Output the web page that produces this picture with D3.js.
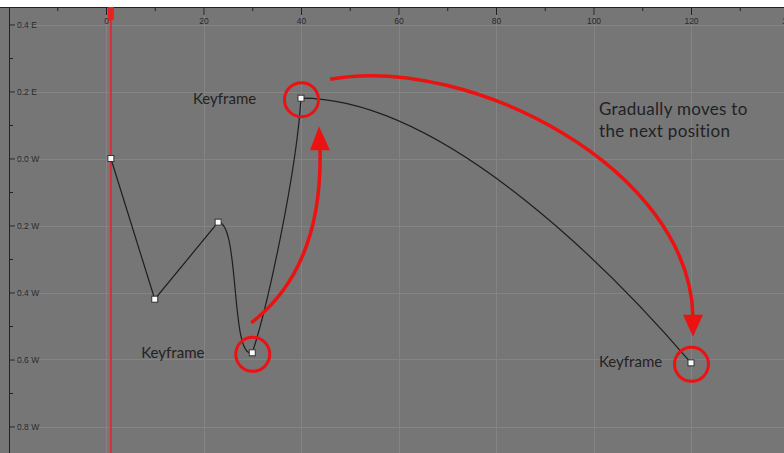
<!DOCTYPE html>
<html><head><meta charset="utf-8">
<script src="https://cdn.jsdelivr.net/npm/d3@7"></script>
<style>body{margin:0;background:#fff}svg{display:block}</style></head>
<body>
<svg id="c" width="784" height="453"></svg>
<script>
// ---- data ----
const frames = [1, 10, 23, 30, 40, 120];
const values = [0.0, -0.42, -0.19, -0.58, 0.18, -0.61];
// bezier handles for each segment (null = linear)
const handleOutFrames = [null, null, 27.5, 33, 70];
const handleOutValues = [null, null, -0.19, -0.45, 0.18];
const handleInFrames  = [null, null, 25.5, 39, 105.4];
const handleInValues  = [null, null, -0.60, -0.05, -0.363];
const xMajorTicks = [0, 20, 40, 60, 80, 100, 120, 140];
const xMinorTicks = [-10, 10, 30, 50, 70, 90, 110, 130];
const yMajorTicks = [0.4, 0.2, 0.0, -0.2, -0.4, -0.6, -0.8];
const yMinorTicks = [0.3, 0.1, -0.1, -0.3, -0.5, -0.7];
const yTickLabels = ["0.4 E", "0.2 E", "0.0 W", "0.2 W", "0.4 W", "0.6 W", "0.8 W"];
const playheadFrame = 1;
const circledKeys = [4, 3, 5];
const keyLabels = ["Keyframe", "Keyframe", "Keyframe"];
const noteLines = ["Gradually moves to", "the next position"];

// ---- setup ----
const W = 784, H = 453;
const svg = d3.select("#c");
const x = d3.scaleLinear().domain([0, 120]).range([106, 691]);
const y = d3.scaleLinear().domain([0.4, -0.8]).range([24.5, 426.5]);
const topY = 7, leftX = 9;

svg.append("rect").attr("width", W).attr("height", H).attr("fill", "#fff");
svg.append("rect").attr("x", 0).attr("y", topY).attr("width", W).attr("height", H - topY).attr("fill", "#767676");

// grid
const grid = svg.append("g").attr("stroke", "#848484").attr("stroke-width", 1);
grid.selectAll(".gx").data(xMajorTicks).join("line")
  .attr("x1", d => Math.round(x(d)) + 0.5).attr("x2", d => Math.round(x(d)) + 0.5)
  .attr("y1", topY).attr("y2", H);
grid.selectAll(".gy").data(yMajorTicks).join("line")
  .attr("y1", d => Math.round(y(d)) + 0.5).attr("y2", d => Math.round(y(d)) + 0.5)
  .attr("x1", leftX).attr("x2", W);

// top axis
const axTop = svg.append("g").attr("transform", `translate(0,${topY})`)
  .call(d3.axisBottom(x).tickValues(xMajorTicks).tickSize(8).tickPadding(3).tickFormat(d3.format("d")));
axTop.select(".domain").remove();
axTop.selectAll("line").attr("stroke", "#222");
axTop.selectAll("text").attr("fill", "#2a2a2a").attr("font-size", 8.5).attr("font-family", "Liberation Sans, Arial, sans-serif");
const axTopMinor = svg.append("g").attr("transform", `translate(0,${topY})`)
  .call(d3.axisBottom(x).tickValues(xMinorTicks).tickSize(4).tickFormat(""));
axTopMinor.select(".domain").remove();
axTopMinor.selectAll("line").attr("stroke", "#222");
svg.append("line").attr("x1", 0).attr("x2", W).attr("y1", topY + 0.5).attr("y2", topY + 0.5).attr("stroke", "#222");

// left axis
const axLeft = svg.append("g").attr("transform", `translate(${leftX},0)`)
  .call(d3.axisRight(y).tickValues(yMajorTicks).tickSize(6).tickPadding(2).tickFormat((d, i) => yTickLabels[i]));
axLeft.select(".domain").remove();
axLeft.selectAll("line").attr("stroke", "#222");
axLeft.selectAll("text").attr("fill", "#2a2a2a").attr("font-size", 8.5).attr("font-family", "Liberation Sans, Arial, sans-serif");
const axLeftMinor = svg.append("g").attr("transform", `translate(${leftX},0)`)
  .call(d3.axisRight(y).tickValues(yMinorTicks).tickSize(4).tickFormat(""));
axLeftMinor.select(".domain").remove();
axLeftMinor.selectAll("line").attr("stroke", "#222");
svg.append("line").attr("x1", leftX + 0.5).attr("x2", leftX + 0.5).attr("y1", topY).attr("y2", H).attr("stroke", "#222");

// playhead
const px = x(playheadFrame);
svg.append("line").attr("x1", px).attr("x2", px).attr("y1", topY).attr("y2", H)
  .attr("stroke", "#d8302c").attr("stroke-width", 2);
svg.append("path").attr("d", `M${px - 3},${topY} L${px + 3},${topY} L${px + 3},${topY + 12} Q${px},${topY + 16} ${px - 3},${topY + 12} Z`)
  .attr("fill", "#e8231d");

// curve
const path = d3.path();
path.moveTo(x(frames[0]), y(values[0]));
for (let i = 0; i < frames.length - 1; i++) {
  if (handleOutFrames[i] === null) {
    path.lineTo(x(frames[i + 1]), y(values[i + 1]));
  } else {
    path.bezierCurveTo(x(handleOutFrames[i]), y(handleOutValues[i]),
      x(handleInFrames[i]), y(handleInValues[i]),
      x(frames[i + 1]), y(values[i + 1]));
  }
}
svg.append("path").attr("d", path.toString()).attr("fill", "none").attr("stroke", "#1e1e1e").attr("stroke-width", 1.2);

// keyframe markers
svg.selectAll(".kf").data(frames).join("rect")
  .attr("x", (d, i) => x(d) - 3).attr("y", (d, i) => y(values[i]) - 3)
  .attr("width", 6).attr("height", 6)
  .attr("fill", "#fff").attr("stroke", "#333").attr("stroke-width", 1);

// annotations
const red = "#ee1111";
const ann = svg.append("g");
ann.selectAll("circle").data(circledKeys).join("circle")
  .attr("cx", k => x(frames[k]) + 0.5).attr("cy", k => y(values[k]) + 1.5).attr("r", 17)
  .attr("fill", "none").attr("stroke", red).attr("stroke-width", 3);

// arrow 1 (from keyframe 4 up to keyframe 5)
{
  const k0 = 3, k1 = 4;
  const sx = x(frames[k0]) - 1, sy = y(values[k0]) - 30;
  const ex = x(frames[k1]) + 19, ey = y(values[k1]) + 50;
  ann.append("path").attr("d", `M${sx},${sy} Q${ex + 3},${sy - 55} ${ex},${ey}`)
    .attr("fill", "none").attr("stroke", red).attr("stroke-width", 3.5);
  ann.append("path").attr("d", `M${ex - 10},${ey + 2} L${ex + 10},${ey + 2} L${ex - 1},${ey - 22} Z`).attr("fill", red);
}
// arrow 2 (from keyframe 5 to keyframe 6)
{
  const k0 = 4, k1 = 5;
  const sx = x(frames[k0]) + 29, sy = y(values[k0]) - 19;
  const ex = x(frames[k1]) + 2, ey = y(values[k1]) - 46;
  ann.append("path").attr("d", `M${sx},${sy} C${sx + 140},${sy - 25} ${ex - 3},${sy + 90} ${ex},${ey}`)
    .attr("fill", "none").attr("stroke", red).attr("stroke-width", 3.5);
  ann.append("path").attr("d", `M${ex - 10},${ey - 2} L${ex + 10},${ey - 2} L${ex},${ey + 20} Z`).attr("fill", red);
}

// labels
const lbl = svg.append("g").attr("font-family", "Lato, sans-serif").attr("font-size", 15).attr("fill", "#222");
const labelDx = [-108, -111, -92];
const labelDy = [6, 5, 4];
circledKeys.forEach((k, i) => {
  lbl.append("text").attr("x", x(frames[k]) + labelDx[i]).attr("y", y(values[k]) + labelDy[i]).text(keyLabels[i]);
});
lbl.selectAll(".note").data(noteLines).join("text")
  .attr("x", x(frames[5]) - 92).attr("y", (d, i) => y(values[4]) + 17 + i * 22)
  .attr("font-size", 17).attr("letter-spacing", 0.3).text(d => d);
</script>
</body></html>
